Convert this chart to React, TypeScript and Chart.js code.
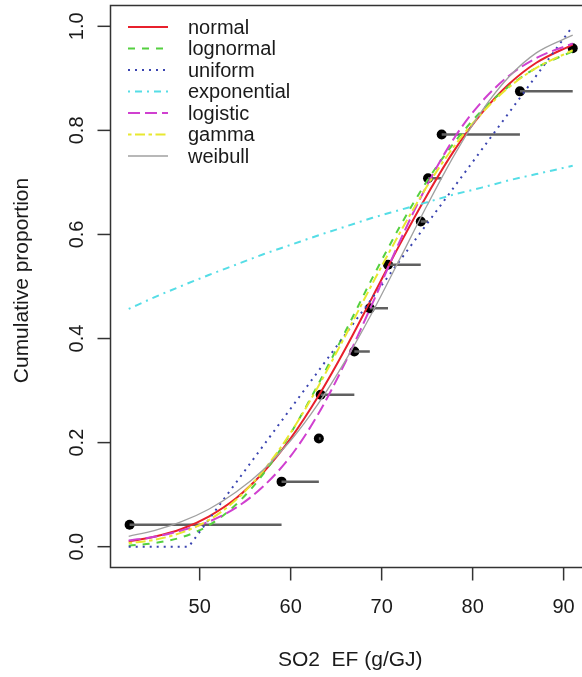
import React, { useEffect, useRef } from "react";
import { Chart, registerables } from "chart.js";

Chart.register(...registerables);

// ---- data ----
const xGrid = [42.2, 45, 48, 51, 54, 57, 60, 63, 66, 69, 72, 75, 78, 81, 84, 87, 91];
const normalCdf = [0.010, 0.019, 0.034, 0.058, 0.093, 0.143, 0.208, 0.288, 0.380, 0.480, 0.581, 0.676, 0.762, 0.833, 0.889, 0.930, 0.965];
const lognormalCdf = [0.002, 0.007, 0.018, 0.041, 0.081, 0.140, 0.218, 0.311, 0.413, 0.517, 0.615, 0.703, 0.777, 0.838, 0.885, 0.920, 0.952];
const exponentialCdf = [0.457, 0.479, 0.501, 0.522, 0.542, 0.562, 0.580, 0.598, 0.615, 0.632, 0.647, 0.662, 0.677, 0.690, 0.704, 0.716, 0.732];
const logisticCdf = [0.012, 0.019, 0.031, 0.048, 0.075, 0.116, 0.174, 0.254, 0.354, 0.468, 0.587, 0.695, 0.786, 0.855, 0.905, 0.939, 0.967];
const gammaCdf = [0.007, 0.013, 0.027, 0.051, 0.090, 0.146, 0.219, 0.307, 0.405, 0.506, 0.603, 0.693, 0.770, 0.833, 0.883, 0.920, 0.954];
const weibullCdf = [0.020, 0.031, 0.048, 0.072, 0.105, 0.148, 0.204, 0.274, 0.357, 0.451, 0.553, 0.656, 0.753, 0.837, 0.903, 0.949, 0.983];
const uniformX = [42.2, 48.8, 91.0];
const uniformCdf = [0, 0, 1];

const obsX = [42.3, 59.0, 63.1, 63.3, 67.0, 68.7, 70.7, 74.3, 75.1, 76.6, 85.2, 91.0];
const obsP = [0.042, 0.125, 0.208, 0.292, 0.375, 0.458, 0.542, 0.625, 0.708, 0.792, 0.875, 0.958];

const xTicks = [50, 60, 70, 80, 90];
const yTicks = [0, 0.2, 0.4, 0.6, 0.8, 1.0];
const yTickLabels = ["0.0", "0.2", "0.4", "0.6", "0.8", "1.0"];
const legendLabels = ["normal", "lognormal", "uniform", "exponential", "logistic", "gamma", "weibull"];
const xTitle = "SO2  EF (g/GJ)";
const yTitle = "Cumulative proportion";

const FONT = '"Liberation Sans", Arial, Helvetica, sans-serif';

const curveStyles = [
  { color: "#e8202c", dash: [], width: 2 },
  { color: "#55d040", dash: [7, 7], width: 2 },
  { color: "#3a44b0", dash: [2, 5], width: 2 },
  { color: "#55dde6", dash: [2, 5, 7, 5], width: 2 },
  { color: "#d040d0", dash: [12, 5], width: 2 },
  { color: "#e8e830", dash: [3.5, 3.5, 10, 3.5], width: 2 },
  { color: "#a0a0a0", dash: [], width: 1.3 },
];

const curveData = [normalCdf, lognormalCdf, null, exponentialCdf, logisticCdf, gammaCdf, weibullCdf];

function buildDatasets() {
  const ds: any[] = [];
  legendLabels.forEach((lab, i) => {
    const st = curveStyles[i];
    let pts;
    if (i === 2) {
      pts = uniformX.map((x, k) => ({ x, y: uniformCdf[k] }));
    } else {
      const arr = curveData[i] as number[];
      pts = xGrid.map((x, k) => ({ x, y: arr[k] }));
    }
    ds.push({
      label: lab,
      data: pts,
      showLine: true,
      borderColor: st.color,
      borderWidth: st.width,
      borderDash: st.dash,
      pointRadius: 0,
      fill: false,
      tension: i === 2 ? 0 : 0.4,
      cubicInterpolationMode: i === 2 ? "default" : "monotone",
      order: 6 - i,
      isCurve: true,
    });
  });
  // horizontal segments
  const seg: any[] = [];
  for (let i = 0; i < obsX.length - 1; i++) {
    seg.push({ x: obsX[i], y: obsP[i] });
    seg.push({ x: obsX[i + 1], y: obsP[i] });
    seg.push({ x: obsX[i + 1], y: null });
  }
  ds.push({
    label: "segments",
    data: seg,
    showLine: true,
    spanGaps: false,
    borderColor: "#606060",
    borderWidth: 2.5,
    pointRadius: 0,
    order: 8,
  });
  ds.push({
    label: "points",
    data: obsX.map((x, k) => ({ x, y: obsP[k] })),
    showLine: false,
    pointRadius: 5,
    pointBackgroundColor: "#000",
    pointBorderColor: "#000",
    pointBorderWidth: 0,
    order: 9,
  });
  return ds;
}

const rPlot = {
  id: "rPlot",
  afterDraw(chart: any) {
    const ctx = chart.ctx;
    const { left, right, top, bottom } = chart.chartArea;
    const xs = chart.scales.x;
    const ys = chart.scales.y;
    ctx.save();
    // box
    ctx.strokeStyle = "#333";
    ctx.lineWidth = 1.5;
    ctx.strokeRect(left, top, right - left, bottom - top);
    // x ticks
    ctx.fillStyle = "#1a1a1a";
    ctx.font = `20px ${FONT}`;
    ctx.textAlign = "center";
    ctx.textBaseline = "alphabetic";
    xTicks.forEach((v) => {
      const px = xs.getPixelForValue(v);
      ctx.beginPath();
      ctx.moveTo(px, bottom);
      ctx.lineTo(px, bottom + 13);
      ctx.stroke();
      ctx.fillText(String(v), px, 613);
    });
    // y ticks
    yTicks.forEach((v, k) => {
      const py = ys.getPixelForValue(v);
      ctx.beginPath();
      ctx.moveTo(left, py);
      ctx.lineTo(left - 13, py);
      ctx.stroke();
      ctx.save();
      ctx.translate(83, py);
      ctx.rotate(-Math.PI / 2);
      ctx.textAlign = "center";
      ctx.fillText(yTickLabels[k], 0, 0);
      ctx.restore();
    });
    // titles
    ctx.font = `21px ${FONT}`;
    ctx.textAlign = "center";
    ctx.fillText(xTitle, (left + right) / 2, 666);
    ctx.save();
    ctx.translate(28, (top + bottom) / 2 - 6);
    ctx.rotate(-Math.PI / 2);
    ctx.fillText(yTitle, 0, 0);
    ctx.restore();
    // legend
    ctx.font = `20px ${FONT}`;
    ctx.textAlign = "left";
    ctx.textBaseline = "middle";
    legendLabels.forEach((lab, i) => {
      const y = 27 + i * 21.5;
      const st = curveStyles[i];
      ctx.save();
      ctx.strokeStyle = st.color;
      ctx.lineWidth = st.width;
      ctx.setLineDash(st.dash);
      ctx.beginPath();
      ctx.moveTo(128, y);
      ctx.lineTo(168, y);
      ctx.stroke();
      ctx.restore();
      ctx.fillStyle = "#1a1a1a";
      ctx.fillText(lab, 188, y + 1);
    });
    ctx.restore();
  },
};

export default function App() {
  const ref = useRef<HTMLCanvasElement>(null);
  useEffect(() => {
    if (!ref.current) return;
    const chart = new Chart(ref.current, {
      type: "scatter",
      data: { datasets: buildDatasets() },
      options: {
        responsive: false,
        animation: false,
        devicePixelRatio: 1,
        layout: { padding: { left: 110.5, right: 10, top: 5.5, bottom: 109.5 } },
        scales: {
          x: { type: "linear", min: 40.2, max: 92.9, display: false },
          y: { type: "linear", min: -0.04, max: 1.04, display: false },
        },
        plugins: { legend: { display: false }, tooltip: { enabled: false } },
      },
      plugins: [rPlot],
    } as any);
    return () => chart.destroy();
  }, []);
  return (
    <div style={{ position: "fixed", left: 0, top: 0, width: 582, height: 677, overflow: "hidden", background: "#fff" }}>
      <canvas ref={ref} width={600} height={677} style={{ display: "block" }} />
    </div>
  );
}
